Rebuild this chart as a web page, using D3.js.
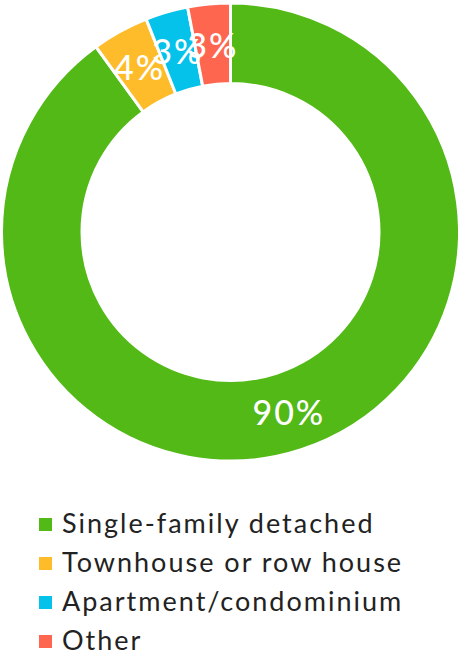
<!DOCTYPE html>
<html>
<head>
<meta charset="utf-8">
<script src="https://cdn.jsdelivr.net/npm/d3@7/dist/d3.min.js"></script>
<style>
  html, body { margin: 0; padding: 0; background: #fff; }
  svg { display: block; }
</style>
</head>
<body>
<svg id="chart" width="458" height="656"></svg>
<script>
// Housing type shares (percent)
const categories = ["Single-family detached", "Townhouse or row house", "Apartment/condominium", "Other"];
const values = [90, 4, 3, 3];
const labels = ["90%", "4%", "3%", "3%"];
const colors = ["#52b916", "#febc2b", "#04c2ea", "#fe6650"];

const svg = d3.select("#chart");
const cx = 230.5, cy = 232, outerR = 229, innerR = 148.5;

const pie = d3.pie().sort(null).value(d => d.value);
const arc = d3.arc().innerRadius(innerR).outerRadius(outerR);

const data = categories.map((c, i) => ({ name: c, value: values[i], label: labels[i], color: colors[i] }));
const arcs = pie(data);

const g = svg.append("g").attr("transform", `translate(${cx},${cy})`);

g.selectAll("path.slice")
  .data(arcs)
  .join("path")
  .attr("class", "slice")
  .attr("d", arc)
  .attr("fill", d => d.data.color)
  .attr("stroke", "#fff")
  .attr("stroke-width", 3)
  .attr("stroke-linejoin", "miter");

g.selectAll("text.value")
  .data(arcs)
  .join("text")
  .attr("class", "value")
  .attr("transform", d => `translate(${arc.centroid(d)})`)
  .attr("text-anchor", "middle")
  .attr("dy", "0.4em")
  .attr("fill", "#fff")
  .attr("font-family", "Lato, 'Open Sans', sans-serif")
  .attr("font-weight", 500)
  .attr("font-size", 34)
  .attr("letter-spacing", 2)
  .text(d => d.data.label);

// Legend
const legendY = d3.scaleBand().domain(categories).range([504, 660]).paddingInner(0);
const legend = svg.append("g");
const rows = legend.selectAll("g.row")
  .data(data)
  .join("g")
  .attr("class", "row")
  .attr("transform", d => `translate(0,${legendY(d.name)})`);

rows.append("rect")
  .attr("x", 39)
  .attr("y", 14)
  .attr("width", 13)
  .attr("height", 13)
  .attr("fill", d => d.color);

rows.append("text")
  .attr("x", 62)
  .attr("y", 19)
  .attr("dy", "0.36em")
  .attr("fill", "#222")
  .attr("font-family", "Lato, 'Open Sans', sans-serif")
  .attr("font-size", 27)
  .attr("letter-spacing", 2)
  .text(d => d.name);
</script>
</body>
</html>
